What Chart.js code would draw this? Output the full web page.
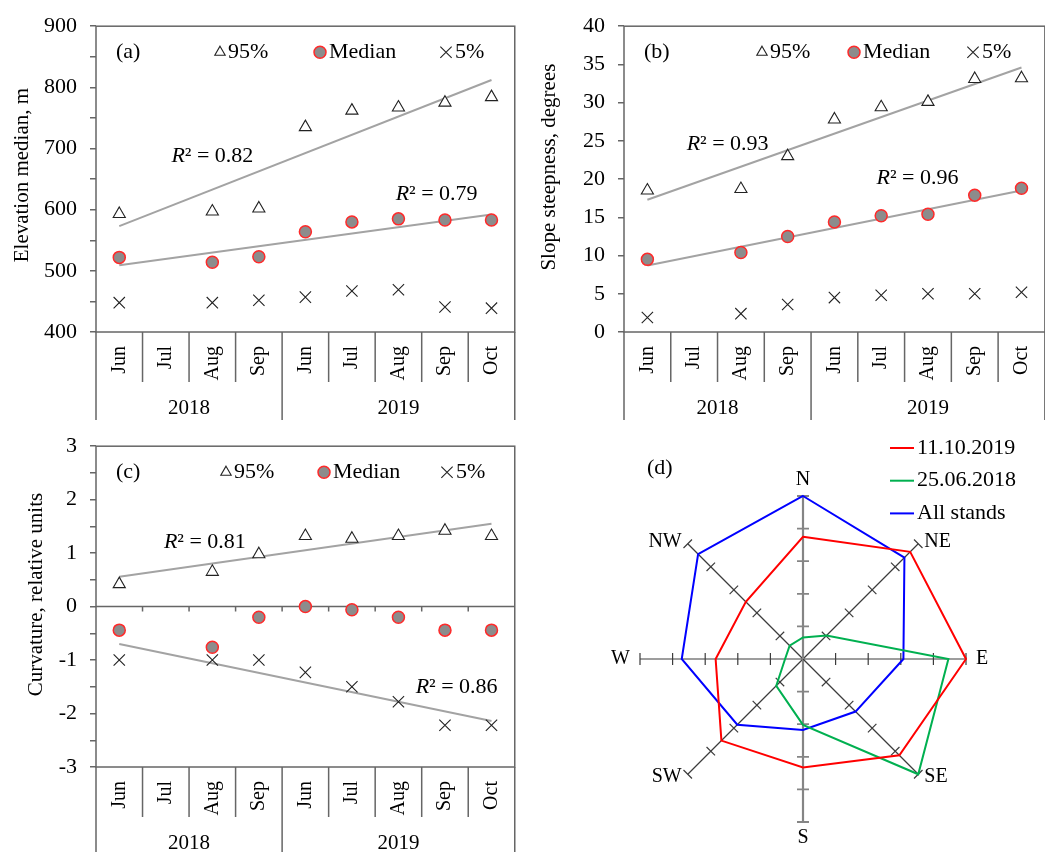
<!DOCTYPE html>
<html>
<head>
<meta charset="utf-8">
<title>Stand topography by survey month</title>
<script src="https://cdn.jsdelivr.net/npm/chart.js@4.4.1/dist/chart.umd.min.js"></script>
<style>
  html, body { margin: 0; padding: 0; background: #fff; }
  body { width: 1045px; height: 852px; position: relative; overflow: hidden; }
  canvas { position: absolute; }
</style>
</head>
<body>
<canvas id="panelA" width="530" height="420" style="left:0;top:0"></canvas>
<canvas id="panelB" width="530" height="420" style="left:530px;top:0"></canvas>
<canvas id="panelC" width="530" height="432" style="left:0;top:420px"></canvas>
<canvas id="panelD" width="515" height="432" style="left:530px;top:420px"></canvas>
<script>
// ---- survey months (2018: Jun–Sep, 2019: Jun–Oct) ----
const months = ['Jun', 'Jul', 'Aug', 'Sep', 'Jun', 'Jul', 'Aug', 'Sep', 'Oct'];
const years = ['2018', '2019'];
const monthsPerYear = [4, 5];

// ---- (a) elevation, m ----
const elev95 = [593, null, 597, 602, 735, 762, 767, 775, 784];
const elevMedian = [522, null, 514, 523, 564, 580, 585, 583, 583];
const elev5 = [448, null, 448, 452, 457, 467, 469, 441, 439];
const elev95Trend = [573, null, null, null, null, null, null, null, 812];
const elevMedianTrend = [509, null, null, null, null, null, null, null, 592];
const elevR2 = ['0.82', '0.79'];
const elevTicks = [400, 900, 50];

// ---- (b) slope steepness, degrees ----
const slope95 = [18.5, null, 18.7, 23.0, 27.8, 29.4, 30.1, 33.1, 33.2];
const slopeMedian = [9.5, null, 10.4, 12.5, 14.4, 15.2, 15.4, 17.9, 18.8];
const slope5 = [1.9, null, 2.4, 3.6, 4.5, 4.8, 5.0, 5.0, 5.2];
const slope95Trend = [17.3, null, null, null, null, null, null, null, 34.6];
const slopeMedianTrend = [8.7, null, null, null, null, null, null, null, 18.5];
const slopeR2 = ['0.93', '0.96'];
const slopeTicks = [0, 40, 5];

// ---- (c) curvature, relative units ----
const curv95 = [0.42, null, 0.65, 0.98, 1.32, 1.27, 1.32, 1.42, 1.32];
const curvMedian = [-0.44, null, -0.76, -0.2, 0.0, -0.06, -0.2, -0.44, -0.44];
const curv5 = [-1.0, null, -1.0, -1.0, -1.23, -1.5, -1.78, -2.22, -2.22];
const curv95Trend = [0.56, null, null, null, null, null, null, null, 1.55];
const curv5Trend = [-0.70, null, null, null, null, null, null, null, -2.14];
const curvR2 = ['0.81', '0.86'];
const curvTicks = [-3, 3, 0.5];

// ---- (d) aspect distribution ----
const directions = ['N', 'NE', 'E', 'SE', 'S', 'SW', 'W', 'NW'];
const aspect2019 = [3.75, 4.65, 5.0, 4.18, 3.33, 3.54, 2.68, 2.48];
const aspect2018 = [0.66, 1.02, 4.46, 5.0, 2.02, 1.16, 0.55, 0.58];
const aspectAll = [5.0, 4.4, 3.08, 2.28, 2.18, 2.85, 3.72, 4.55];
const aspectMax = 5;

const FONT = "'Liberation Serif', 'Times New Roman', serif";
Chart.defaults.font.family = FONT;
Chart.defaults.color = '#000';

const FRAME = '#666';

function catBoundaries(chart) {
  const x = chart.scales.x, a = chart.chartArea, n = chart.data.labels.length;
  const b = [a.left];
  for (let k = 1; k < n; k++) b.push((x.getPixelForValue(k - 1) + x.getPixelForValue(k)) / 2);
  b.push(a.right);
  return b;
}

function marker(ctx, style, radius, fill, stroke, width, px, py) {
  ctx.save();
  ctx.fillStyle = fill;
  ctx.strokeStyle = stroke;
  ctx.lineWidth = width;
  Chart.helpers.drawPoint(ctx, { pointStyle: style, radius: radius, rotation: 0, borderWidth: width }, px, py);
  ctx.restore();
}

// frame, month/year header cells, zero line, axis title, in-panel key and R² notes
const panelDecor = {
  id: 'panelDecor',
  beforeDatasetsDraw(chart, args, o) {
    if (!o.zeroLine) return;
    const { ctx, chartArea: a, scales: { y } } = chart;
    const y0 = y.getPixelForValue(0);
    ctx.save();
    ctx.strokeStyle = FRAME;
    ctx.lineWidth = 1.5;
    ctx.beginPath();
    ctx.moveTo(a.left, y0);
    ctx.lineTo(a.right, y0);
    const b = catBoundaries(chart);
    for (let k = 1; k < b.length - 1; k++) {
      ctx.moveTo(b[k], y0);
      ctx.lineTo(b[k], y0 + 5);
    }
    ctx.stroke();
    ctx.restore();
  },
  afterDraw(chart, args, o) {
    const { ctx, chartArea: a, scales: { x, y } } = chart;
    const b = catBoundaries(chart);
    ctx.save();
    ctx.strokeStyle = FRAME;
    ctx.lineWidth = 1.5;
    ctx.strokeRect(a.left, a.top, a.right - a.left, a.bottom - a.top);

    // year group edges
    const edges = [0];
    monthsPerYear.forEach(m => edges.push(edges[edges.length - 1] + m));
    ctx.beginPath();
    for (let k = 0; k < b.length; k++) {
      const isYearEdge = edges.includes(k);
      ctx.moveTo(b[k], a.bottom);
      ctx.lineTo(b[k], isYearEdge ? chart.height : a.bottom + 50);
    }
    ctx.stroke();

    ctx.fillStyle = '#000';
    ctx.font = '21px ' + FONT;
    ctx.textAlign = 'center';
    ctx.textBaseline = 'middle';
    years.forEach((yr, i) => {
      ctx.fillText(yr, (b[edges[i]] + b[edges[i + 1]]) / 2, a.bottom + 76);
    });

    // vertical axis title
    ctx.save();
    ctx.translate(o.title.x, (a.top + a.bottom) / 2 + o.title.dy);
    ctx.rotate(-Math.PI / 2);
    ctx.fillText(o.title.text, 0, 0);
    ctx.restore();

    // key
    const L = o.legend;
    ctx.font = '22px ' + FONT;
    ctx.textAlign = 'left';
    ctx.fillText(L.tag, a.left + L.tagX, a.top + L.y);
    L.items.forEach(it => {
      const ds = chart.data.datasets[it.ds];
      const cx = a.left + it.x, cy = a.top + L.y;
      marker(ctx, ds.pointStyle, it.r, ds.pointBackgroundColor || '#fff', ds.pointBorderColor, ds.pointBorderWidth, cx, cy);
      ctx.fillStyle = '#000';
      ctx.fillText(ds.label, cx + it.gap, cy);
    });

    // R² notes
    o.r2.forEach(n => {
      const px = x.getPixelForValue(0) + (n.at[0]) * (x.getPixelForValue(1) - x.getPixelForValue(0));
      const py = y.getPixelForValue(n.at[1]);
      ctx.font = 'italic 22px ' + FONT;
      ctx.fillText('R', px, py);
      const w = ctx.measureText('R').width;
      ctx.font = '22px ' + FONT;
      ctx.fillText('\u00B2 = ' + n.text, px + w, py);
    });
    ctx.restore();
  }
};

function scatterPanel(id, cfg) {
  const trendStyle = { borderColor: '#a3a3a3', borderWidth: 2, pointRadius: 0, spanGaps: true, fill: false, showLine: true };
  const datasets = [
    { label: '95%', data: cfg.p95, showLine: false, pointStyle: 'triangle', pointRadius: 7,
      pointBackgroundColor: '#fff', pointBorderColor: '#222', pointBorderWidth: 1.1 },
    { label: 'Median', data: cfg.med, showLine: false, pointStyle: 'circle', pointRadius: 6,
      pointBackgroundColor: '#8c8c8c', pointBorderColor: '#ff2a2a', pointBorderWidth: 1.5 },
    { label: '5%', data: cfg.p5, showLine: false, pointStyle: 'crossRot', pointRadius: 8,
      pointBackgroundColor: '#222', pointBorderColor: '#222', pointBorderWidth: 1.1 }
  ];
  cfg.trends.forEach(t => datasets.push(Object.assign({ label: 'trend', data: t }, trendStyle)));

  return new Chart(document.getElementById(id), {
    type: 'line',
    data: { labels: months, datasets },
    options: {
      responsive: false,
      animation: false,
      events: [],
      layout: { padding: { top: 17, right: cfg.padRight, left: 0, bottom: 0 } },
      plugins: {
        legend: { display: false },
        tooltip: { enabled: false },
        panelDecor: { zeroLine: !!cfg.zeroLine, legend: cfg.legend, r2: cfg.r2, title: cfg.title }
      },
      scales: {
        x: {
          type: 'category',
          offset: true,
          grid: { display: false, drawTicks: false },
          border: { display: false },
          ticks: { autoSkip: false, minRotation: 90, maxRotation: 90, padding: 14, color: '#000',
                   font: { family: FONT, size: 20 } },
          afterFit(s) { s.height = cfg.xHeight; }
        },
        y: {
          min: cfg.ticks[0], max: cfg.ticks[1],
          grid: { display: true, drawOnChartArea: false, drawTicks: true, tickLength: 6, color: FRAME, lineWidth: 1.5 },
          border: { display: false },
          ticks: {
            stepSize: cfg.ticks[2], autoSkip: false, padding: 13, color: '#000',
            font: { family: FONT, size: 22 },
            callback: v => (Math.abs(v % cfg.labelStep) < 1e-9 ? String(v) : '')
          },
          title: { display: false },
          afterFit(s) { s.width = cfg.yWidth; }
        }
      }
    },
    plugins: [panelDecor]
  });
}

scatterPanel('panelA', {
  p95: elev95, med: elevMedian, p5: elev5, trends: [elev95Trend, elevMedianTrend],
  ticks: elevTicks, labelStep: 100,
  title: { text: 'Elevation median, m', x: 22, dy: -4 },
  yWidth: 96, xHeight: 88, padRight: 5,
  legend: { tag: '(a)', tagX: 20, y: 26,
            items: [{ ds: 0, x: 124, r: 6, gap: 8 }, { ds: 1, x: 224, r: 6, gap: 9 }, { ds: 2, x: 350, r: 8, gap: 9 }] },
  r2: [{ at: [1.12, 687], text: elevR2[0] }, { at: [5.94, 625], text: elevR2[1] }]
});

scatterPanel('panelB', {
  p95: slope95, med: slopeMedian, p5: slope5, trends: [slope95Trend, slopeMedianTrend],
  ticks: slopeTicks, labelStep: 5,
  title: { text: 'Slope steepness, degrees', x: 19, dy: -12 },
  yWidth: 94, xHeight: 88, padRight: 8,
  legend: { tag: '(b)', tagX: 20, y: 26,
            items: [{ ds: 0, x: 138, r: 6, gap: 8 }, { ds: 1, x: 230, r: 6, gap: 9 }, { ds: 2, x: 349, r: 8, gap: 9 }] },
  r2: [{ at: [0.84, 24.6], text: slopeR2[0] }, { at: [4.9, 20.1], text: slopeR2[1] }]
});

scatterPanel('panelC', {
  p95: curv95, med: curvMedian, p5: curv5, trends: [curv95Trend, curv5Trend],
  ticks: curvTicks, labelStep: 1, zeroLine: true,
  title: { text: 'Curvature, relative units', x: 36, dy: -12 },
  yWidth: 96, xHeight: 85, padRight: 5,
  legend: { tag: '(c)', tagX: 20, y: 26,
            items: [{ ds: 0, x: 130, r: 6, gap: 8 }, { ds: 1, x: 228, r: 6, gap: 9 }, { ds: 2, x: 351, r: 8, gap: 9 }] },
  r2: [{ at: [0.96, 1.2], text: curvR2[0] }, { at: [6.37, -1.51], text: curvR2[1] }]
});

// ---- (d) aspect rose ----
const axisColor = i => (i % 4 === 0 ? '#858585' : '#3c3c3c');
const axisWidth = i => (i % 4 === 0 ? 2.2 : 1.2);

const roseDecor = {
  id: 'roseDecor',
  beforeDatasetsDraw(chart) {
    const { ctx } = chart;
    const r = chart.scales.r;
    ctx.save();
    for (let i = 0; i < chart.data.labels.length; i++) {
      const ang = r.getIndexAngle(i) - Math.PI / 2;
      const nx = -Math.sin(ang), ny = Math.cos(ang);
      ctx.strokeStyle = axisColor(i);
      ctx.lineWidth = axisWidth(i) > 2 ? 1.8 : 1.2;
      ctx.beginPath();
      for (let v = 1; v <= aspectMax; v++) {
        const p = r.getPointPositionForValue(i, v);
        ctx.moveTo(p.x - nx * 6, p.y - ny * 6);
        ctx.lineTo(p.x + nx * 6, p.y + ny * 6);
      }
      ctx.stroke();
    }
    ctx.restore();
  },
  afterDraw(chart) {
    const { ctx } = chart;
    const r = chart.scales.r;
    ctx.save();
    ctx.fillStyle = '#000';
    ctx.font = '20px ' + FONT;
    chart.data.labels.forEach((lab, i) => {
      const ang = r.getIndexAngle(i) - Math.PI / 2;
      const c = Math.cos(ang), s = Math.sin(ang);
      const p = r.getPointPositionForValue(i, aspectMax);
      let tx = p.x, ty = p.y;
      ctx.textBaseline = 'middle';
      if (Math.abs(c) < 0.1) {
        ctx.textAlign = 'center';
        ty += (s < 0 ? -16 : 16);
      } else if (Math.abs(s) < 0.1) {
        ctx.textAlign = c > 0 ? 'left' : 'right';
        tx += (c > 0 ? 10 : -10);
      } else {
        ctx.textAlign = c > 0 ? 'left' : 'right';
        tx += (c > 0 ? 6 : -6);
        ty += s * 3;
      }
      ctx.fillText(lab, tx, ty);
    });

    // panel tag and key
    ctx.font = '22px ' + FONT;
    ctx.textAlign = 'left';
    ctx.fillText('(d)', 117, 48);
    chart.data.datasets.forEach((ds, i) => {
      const ky = 28 + i * 32.7;
      ctx.strokeStyle = ds.borderColor;
      ctx.lineWidth = 2;
      ctx.beginPath();
      ctx.moveTo(360, ky);
      ctx.lineTo(384, ky);
      ctx.stroke();
      ctx.fillText(ds.label, 387, ky);
    });
    ctx.restore();
  }
};

new Chart(document.getElementById('panelD'), {
  type: 'radar',
  data: {
    labels: directions,
    datasets: [
      { label: '11.10.2019', data: aspect2019, borderColor: '#ff0000', borderWidth: 2, pointRadius: 0, fill: false },
      { label: '25.06.2018', data: aspect2018, borderColor: '#00b050', borderWidth: 2, pointRadius: 0, fill: false },
      { label: 'All stands', data: aspectAll, borderColor: '#0000ff', borderWidth: 2, pointRadius: 0, fill: false }
    ]
  },
  options: {
    responsive: false,
    animation: false,
    events: [],
    layout: { padding: { left: 110, top: 76, right: 79, bottom: 30 } },
    elements: { line: { tension: 0 } },
    plugins: { legend: { display: false }, tooltip: { enabled: false } },
    scales: {
      r: {
        min: 0, max: aspectMax,
        ticks: { display: false, stepSize: 1 },
        grid: { display: false },
        pointLabels: { display: false },
        angleLines: {
          display: true,
          color: c => axisColor(c.index),
          lineWidth: c => axisWidth(c.index)
        }
      }
    }
  },
  plugins: [roseDecor]
});
</script>
</body>
</html>
